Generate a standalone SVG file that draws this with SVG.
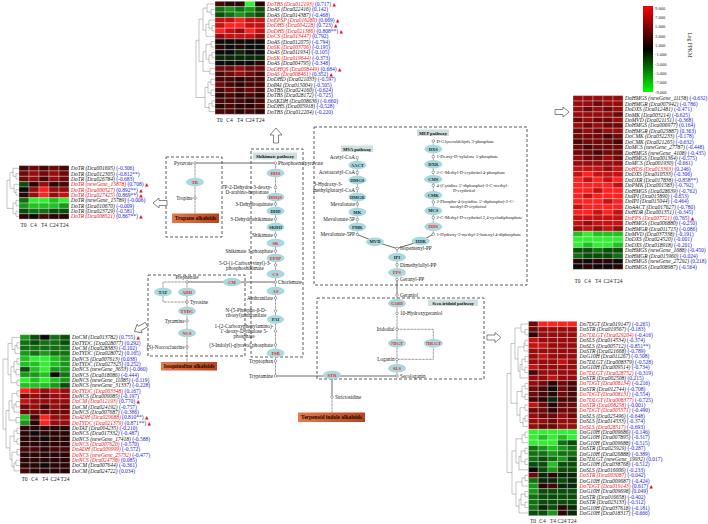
<svg xmlns="http://www.w3.org/2000/svg" width="708" height="524" viewBox="0 0 708 524">
<style>
text{font-family:"Liberation Serif","Times New Roman",serif}
.m{font-size:5.2px;fill:#222}
.ms{font-size:4.6px}
.mr{text-anchor:end}
.mm{text-anchor:middle}
.e{font-size:4.6px;font-weight:bold;text-anchor:middle;fill:#1b2a36}
.er{fill:#e8202a}
.en{fill:#a9d9dd}
.nd{fill:#fff;stroke:#555;stroke-width:0.5}
.hl{font-size:5.5px;font-style:italic;fill:#111}
.hr{fill:#e8101a}
.v{font-style:normal;fill:#2424cc}
.t{fill:#e8101a;font-family:"DejaVu Sans",sans-serif;font-size:4.5px;font-style:normal}
.cl{font-size:5.5px;fill:#222;text-anchor:middle}
.hm rect{width:1px;height:1px;stroke:#fff;stroke-width:0.3px;vector-effect:non-scaling-stroke}
.G{fill:#33ee33}.H{fill:#22c022}.I{fill:#1a961a}.J{fill:#117011}.L{fill:#0a4c0a}.M{fill:#082808}.K{fill:#0b0b0b}
.N{fill:#2a0505}.O{fill:#480707}.P{fill:#6e0909}.Q{fill:#960c0c}.S{fill:#c41212}.T{fill:#ff2020}
.dg{fill:none;stroke:#888;stroke-width:0.5}
.box{fill:none;stroke:#333;stroke-width:0.8;stroke-dasharray:3 2}
.sol{fill:none;stroke:#444;stroke-width:0.8}
.dot{fill:none;stroke:#777;stroke-width:0.9;stroke-dasharray:0.9 0.5}
.pl{fill:#cfe0e0}
.plt{font-size:4.6px;font-weight:bold;text-anchor:middle;fill:#111}
.alk{fill:url(#og)}
.alt{font-size:5.4px;font-weight:bold;text-anchor:middle;fill:#1a0800}
.arr{fill:#fff;stroke:#555;stroke-width:0.7}
</style>
<defs>
<linearGradient id="og" x1="0" y1="0" x2="1" y2="0"><stop offset="0" stop-color="#e27a4c"/><stop offset="1" stop-color="#b8441f"/></linearGradient>
<linearGradient id="lg" x1="0" y1="0" x2="0" y2="1"><stop offset="0" stop-color="#ff0000"/><stop offset="0.5" stop-color="#000000"/><stop offset="1" stop-color="#00ff00"/></linearGradient>
</defs>

<g id="legend">
<rect x="643" y="6" width="10" height="86" fill="url(#lg)"/>
<g font-size="4.5px" fill="#222">
<text x="655" y="9.5">9.000</text><text x="655" y="18.8">7.000</text><text x="655" y="28.2">5.000</text><text x="655" y="37.5">3.000</text><text x="655" y="46.8">1.000</text><text x="655" y="56.2">-1.000</text><text x="655" y="65.5">-3.000</text><text x="655" y="74.8">-5.000</text><text x="655" y="84.2">-7.000</text><text x="655" y="93.5">-9.000</text>
</g>
<text x="688" y="45" font-size="5.5px" fill="#222" text-anchor="middle" transform="rotate(90 688 45)">Log FPKM</text>
</g>

<g id="hm-top">
<path class="dg" d="M215 9.4H211V14.8H215M215 4H207V12.1H211M215 25.5H212V30.9H215M215 20.1H209V28.2H212M215 36.3H206V24.15H209M207 8.05H203V30.2H206M215 41.7H211V47H215M215 52.4H212V57.8H215M215 63.2H209V55.1H212M211 44.35H206V59.15H209M215 68.6H210V74H215M206 51.75H203V71.3H210M203 19.1H199V61.5H203M215 79.3H211V84.7H215M215 90.1H211V95.5H215M211 82H208V92.8H211M215 100.9H212V106.3H215M215 111.6H209V103.6H212M208 87.4H205V107.6H209M199 40.3H196V97.5H205"/>
<g class="hm" transform="translate(215 1.3) scale(10 5.38)">
<rect class="O" x="0" y="0"/><rect class="N" x="1" y="0"/><rect class="N" x="2" y="0"/><rect class="G" x="3" y="0"/><rect class="N" x="4" y="0"/>
<rect class="J" x="0" y="1"/><rect class="I" x="1" y="1"/><rect class="J" x="2" y="1"/><rect class="I" x="3" y="1"/><rect class="L" x="4" y="1"/>
<rect class="L" x="0" y="2"/><rect class="J" x="1" y="2"/><rect class="I" x="2" y="2"/><rect class="J" x="3" y="2"/><rect class="L" x="4" y="2"/>
<rect class="S" x="0" y="3"/><rect class="S" x="1" y="3"/><rect class="T" x="2" y="3"/><rect class="S" x="3" y="3"/><rect class="S" x="4" y="3"/>
<rect class="S" x="0" y="4"/><rect class="T" x="1" y="4"/><rect class="T" x="2" y="4"/><rect class="S" x="3" y="4"/><rect class="S" x="4" y="4"/>
<rect class="T" x="0" y="5"/><rect class="S" x="1" y="5"/><rect class="Q" x="2" y="5"/><rect class="T" x="3" y="5"/><rect class="S" x="4" y="5"/>
<rect class="Q" x="0" y="6"/><rect class="S" x="1" y="6"/><rect class="S" x="2" y="6"/><rect class="S" x="3" y="6"/><rect class="Q" x="4" y="6"/>
<rect class="K" x="0" y="7"/><rect class="K" x="1" y="7"/><rect class="K" x="2" y="7"/><rect class="K" x="3" y="7"/><rect class="K" x="4" y="7"/>
<rect class="N" x="0" y="8"/><rect class="K" x="1" y="8"/><rect class="N" x="2" y="8"/><rect class="K" x="3" y="8"/><rect class="K" x="4" y="8"/>
<rect class="K" x="0" y="9"/><rect class="K" x="1" y="9"/><rect class="M" x="2" y="9"/><rect class="K" x="3" y="9"/><rect class="K" x="4" y="9"/>
<rect class="M" x="0" y="10"/><rect class="M" x="1" y="10"/><rect class="M" x="2" y="10"/><rect class="M" x="3" y="10"/><rect class="M" x="4" y="10"/>
<rect class="K" x="0" y="11"/><rect class="K" x="1" y="11"/><rect class="K" x="2" y="11"/><rect class="K" x="3" y="11"/><rect class="N" x="4" y="11"/>
<rect class="P" x="0" y="12"/><rect class="P" x="1" y="12"/><rect class="Q" x="2" y="12"/><rect class="P" x="3" y="12"/><rect class="P" x="4" y="12"/>
<rect class="O" x="0" y="13"/><rect class="P" x="1" y="13"/><rect class="Q" x="2" y="13"/><rect class="P" x="3" y="13"/><rect class="O" x="4" y="13"/>
<rect class="O" x="0" y="14"/><rect class="O" x="1" y="14"/><rect class="N" x="2" y="14"/><rect class="O" x="3" y="14"/><rect class="O" x="4" y="14"/>
<rect class="P" x="0" y="15"/><rect class="O" x="1" y="15"/><rect class="N" x="2" y="15"/><rect class="O" x="3" y="15"/><rect class="O" x="4" y="15"/>
<rect class="O" x="0" y="16"/><rect class="P" x="1" y="16"/><rect class="O" x="2" y="16"/><rect class="P" x="3" y="16"/><rect class="O" x="4" y="16"/>
<rect class="N" x="0" y="17"/><rect class="O" x="1" y="17"/><rect class="N" x="2" y="17"/><rect class="O" x="3" y="17"/><rect class="N" x="4" y="17"/>
<rect class="O" x="0" y="18"/><rect class="O" x="1" y="18"/><rect class="O" x="2" y="18"/><rect class="N" x="3" y="18"/><rect class="O" x="4" y="18"/>
<rect class="N" x="0" y="19"/><rect class="O" x="1" y="19"/><rect class="N" x="2" y="19"/><rect class="N" x="3" y="19"/><rect class="O" x="4" y="19"/>
<rect class="O" x="0" y="20"/><rect class="O" x="1" y="20"/><rect class="N" x="2" y="20"/><rect class="O" x="3" y="20"/><rect class="N" x="4" y="20"/>
</g>
<g class="hl">
<text class="hr" x="267" y="5.9">DoTBS (Dca012193) <tspan class="v">(0.717)</tspan><tspan class="t"> ▲</tspan></text>
<text x="267" y="11.3">DoAS (Dca022416) <tspan class="v">(0.142)</tspan></text>
<text x="267" y="16.7">DoAS (Dca014387) <tspan class="v">(-0.468)</tspan></text>
<text class="hr" x="267" y="22">DoEPSP (Dca016280) <tspan class="v">(0.669)</tspan><tspan class="t"> ▲</tspan></text>
<text class="hr" x="267" y="27.4">DoDHS (Dca004228) <tspan class="v">(0.723)</tspan><tspan class="t"> ▲</tspan></text>
<text class="hr" x="267" y="32.8">DoDHS (Dca021386) <tspan class="v">(0.808**)</tspan><tspan class="t"> ▲</tspan></text>
<text class="hr" x="267" y="38.2">DoCS (Dca013447) <tspan class="v">(0.792)</tspan></text>
<text x="267" y="43.6">DoAS (Dca012075) <tspan class="v">(-0.794)</tspan></text>
<text class="hr" x="267" y="48.9">DoSK (Dca003706) <tspan class="v">(-0.195)</tspan></text>
<text x="267" y="54.3">DoAS (Dca011934) <tspan class="v">(-0.105)</tspan></text>
<text class="hr" x="267" y="59.7">DoSK (Dca019644) <tspan class="v">(-0.373)</tspan></text>
<text x="267" y="65.1">DoAS (Dca004795) <tspan class="v">(-0.348)</tspan></text>
<text class="hr" x="267" y="70.5">DoDHQS (Dca008449) <tspan class="v">(0.684)</tspan><tspan class="t"> ▲</tspan></text>
<text class="hr" x="267" y="75.9">DoAS (Dca008461) <tspan class="v">(0.352)</tspan><tspan class="t"> ▲</tspan></text>
<text x="267" y="81.2">DoDHD (Dca021033) <tspan class="v">(-0.597)</tspan></text>
<text x="267" y="86.6">DoPAI (Dca015004) <tspan class="v">(-0.505)</tspan></text>
<text x="267" y="92">DoTBS (Dca024160) <tspan class="v">(-0.624)</tspan></text>
<text x="267" y="97.4">DoTBS (Dca028172) <tspan class="v">(-0.725)</tspan></text>
<text x="267" y="102.8">DoSKDH (Dca008636) <tspan class="v">(-0.660)</tspan></text>
<text x="267" y="108.2">DoDHS (Dca005918) <tspan class="v">(-0.528)</tspan></text>
<text x="267" y="113.5">DoTBS (Dca012204) <tspan class="v">(-0.220)</tspan></text>
</g>
<text class="cl" y="121.5"><tspan x="219.5">T0</tspan><tspan x="229.5">C4</tspan><tspan x="240">T4</tspan><tspan x="250">C24</tspan><tspan x="260">T24</tspan></text>
</g>

<g id="hm-tropane">
<path class="dg" d="M19 173.6H16V179H19M19 168.3H13V176.3H16M19 189.7H16V195H19M19 184.3H14V192.35H16M13 172.3H10V188.3H14M19 200.4H16V205.7H19M19 211.1H16V216.4H19M16 203.05H13V213.75H16M10 180.3H7V208.4H13"/>
<g class="hm" transform="translate(19 165.6) scale(10 5.35)">
<rect class="O" x="0" y="0"/><rect class="P" x="1" y="0"/><rect class="O" x="2" y="0"/><rect class="P" x="3" y="0"/><rect class="O" x="4" y="0"/>
<rect class="P" x="0" y="1"/><rect class="Q" x="1" y="1"/><rect class="P" x="2" y="1"/><rect class="Q" x="3" y="1"/><rect class="P" x="4" y="1"/>
<rect class="P" x="0" y="2"/><rect class="Q" x="1" y="2"/><rect class="O" x="2" y="2"/><rect class="Q" x="3" y="2"/><rect class="P" x="4" y="2"/>
<rect class="L" x="0" y="3"/><rect class="N" x="1" y="3"/><rect class="Q" x="2" y="3"/><rect class="N" x="3" y="3"/><rect class="O" x="4" y="3"/>
<rect class="K" x="0" y="4"/><rect class="Q" x="1" y="4"/><rect class="T" x="2" y="4"/><rect class="Q" x="3" y="4"/><rect class="Q" x="4" y="4"/>
<rect class="N" x="0" y="5"/><rect class="Q" x="1" y="5"/><rect class="T" x="2" y="5"/><rect class="Q" x="3" y="5"/><rect class="S" x="4" y="5"/>
<rect class="J" x="0" y="6"/><rect class="G" x="1" y="6"/><rect class="G" x="2" y="6"/><rect class="H" x="3" y="6"/><rect class="G" x="4" y="6"/>
<rect class="I" x="0" y="7"/><rect class="H" x="1" y="7"/><rect class="H" x="2" y="7"/><rect class="H" x="3" y="7"/><rect class="I" x="4" y="7"/>
<rect class="L" x="0" y="8"/><rect class="J" x="1" y="8"/><rect class="J" x="2" y="8"/><rect class="L" x="3" y="8"/><rect class="L" x="4" y="8"/>
<rect class="N" x="0" y="9"/><rect class="K" x="1" y="9"/><rect class="O" x="2" y="9"/><rect class="N" x="3" y="9"/><rect class="N" x="4" y="9"/>
</g>
<g class="hl">
<text x="71" y="170.2">DoTR (Dca001695) <tspan class="v">(-0.306)</tspan></text>
<text x="71" y="175.5">DoTR (Dca012305) <tspan class="v">(-0.812**)</tspan></text>
<text x="71" y="180.9">DoTR (Dca026784) <tspan class="v">(-0.683)</tspan></text>
<text class="hr" x="71" y="186.2">DoTR (newGene_15878) <tspan class="v">(0.708)</tspan><tspan class="t"> ▲</tspan></text>
<text class="hr" x="71" y="191.6">DoTR (Dca000527) <tspan class="v">(0.892**)</tspan><tspan class="t"> ▲</tspan></text>
<text class="hr" x="71" y="196.9">DoTR (Dca027425) <tspan class="v">(0.869**)</tspan><tspan class="t"> ▲</tspan></text>
<text x="71" y="202.3">DoTR (newGene_15789) <tspan class="v">(-0.006)</tspan></text>
<text x="71" y="207.6">DoTR (Dca010670) <tspan class="v">(-0.009)</tspan></text>
<text x="71" y="213">DoTR (Dca023729) <tspan class="v">(-0.581)</tspan></text>
<text class="hr" x="71" y="218.4">DoTR (Dca008521) <tspan class="v">(0.867**)</tspan><tspan class="t"> ▲</tspan></text>
</g>
<text class="cl" y="227"><tspan x="23.5">T0</tspan><tspan x="33.5">C4</tspan><tspan x="44">T4</tspan><tspan x="54">C24</tspan><tspan x="64">T24</tspan></text>
</g>

<g id="hm-isoquinoline">
<path class="dg" d="M20 342.7H17V348.1H20M20 353.4H15V345.4H17M20 337.4H12V349.4H15M20 358.7H17V364.1H20M20 369.4H16V374.8H20M17 361.4H14V372.1H16M20 380.1H17V385.4H20M14 366.75H11V382.75H17M12 343.4H8V374.75H11M20 390.8H17V396.1H20M20 401.5H16V406.8H20M20 412.1H14V404.15H16M17 393.45H12V408.1H14M20 417.5H16V422.8H20M12 400.8H9V420.15H16M20 428.2H17V433.5H20M20 438.8H17V444.2H20M17 430.85H14V441.5H17M20 449.5H17V454.9H20M20 460.2H16V465.5H20M20 470.9H14V462.85H16M17 452.2H12V466.9H14M14 436.2H10V459.55H12M9 410.5H6V447.9H10M8 359.1H3V429.2H6"/>
<g class="hm" transform="translate(20 334.7) scale(10 5.34)">
<rect class="I" x="0" y="0"/><rect class="L" x="1" y="0"/><rect class="K" x="2" y="0"/><rect class="J" x="3" y="0"/><rect class="L" x="4" y="0"/>
<rect class="J" x="0" y="1"/><rect class="L" x="1" y="1"/><rect class="J" x="2" y="1"/><rect class="J" x="3" y="1"/><rect class="L" x="4" y="1"/>
<rect class="J" x="0" y="2"/><rect class="J" x="1" y="2"/><rect class="J" x="2" y="2"/><rect class="J" x="3" y="2"/><rect class="J" x="4" y="2"/>
<rect class="I" x="0" y="3"/><rect class="J" x="1" y="3"/><rect class="I" x="2" y="3"/><rect class="J" x="3" y="3"/><rect class="J" x="4" y="3"/>
<rect class="H" x="0" y="4"/><rect class="G" x="1" y="4"/><rect class="G" x="2" y="4"/><rect class="H" x="3" y="4"/><rect class="I" x="4" y="4"/>
<rect class="H" x="0" y="5"/><rect class="H" x="1" y="5"/><rect class="G" x="2" y="5"/><rect class="H" x="3" y="5"/><rect class="I" x="4" y="5"/>
<rect class="L" x="0" y="6"/><rect class="H" x="1" y="6"/><rect class="G" x="2" y="6"/><rect class="I" x="3" y="6"/><rect class="I" x="4" y="6"/>
<rect class="I" x="0" y="7"/><rect class="I" x="1" y="7"/><rect class="H" x="2" y="7"/><rect class="K" x="3" y="7"/><rect class="J" x="4" y="7"/>
<rect class="G" x="0" y="8"/><rect class="H" x="1" y="8"/><rect class="G" x="2" y="8"/><rect class="H" x="3" y="8"/><rect class="I" x="4" y="8"/>
<rect class="H" x="0" y="9"/><rect class="H" x="1" y="9"/><rect class="H" x="2" y="9"/><rect class="I" x="3" y="9"/><rect class="L" x="4" y="9"/>
<rect class="T" x="0" y="10"/><rect class="S" x="1" y="10"/><rect class="Q" x="2" y="10"/><rect class="S" x="3" y="10"/><rect class="Q" x="4" y="10"/>
<rect class="P" x="0" y="11"/><rect class="Q" x="1" y="11"/><rect class="P" x="2" y="11"/><rect class="Q" x="3" y="11"/><rect class="Q" x="4" y="11"/>
<rect class="S" x="0" y="12"/><rect class="Q" x="1" y="12"/><rect class="Q" x="2" y="12"/><rect class="Q" x="3" y="12"/><rect class="Q" x="4" y="12"/>
<rect class="P" x="0" y="13"/><rect class="Q" x="1" y="13"/><rect class="O" x="2" y="13"/><rect class="Q" x="3" y="13"/><rect class="P" x="4" y="13"/>
<rect class="P" x="0" y="14"/><rect class="P" x="1" y="14"/><rect class="P" x="2" y="14"/><rect class="P" x="3" y="14"/><rect class="P" x="4" y="14"/>
<rect class="H" x="0" y="15"/><rect class="O" x="1" y="15"/><rect class="T" x="2" y="15"/><rect class="Q" x="3" y="15"/><rect class="Q" x="4" y="15"/>
<rect class="I" x="0" y="16"/><rect class="N" x="1" y="16"/><rect class="T" x="2" y="16"/><rect class="Q" x="3" y="16"/><rect class="Q" x="4" y="16"/>
<rect class="N" x="0" y="17"/><rect class="N" x="1" y="17"/><rect class="N" x="2" y="17"/><rect class="N" x="3" y="17"/><rect class="N" x="4" y="17"/>
<rect class="N" x="0" y="18"/><rect class="K" x="1" y="18"/><rect class="N" x="2" y="18"/><rect class="N" x="3" y="18"/><rect class="N" x="4" y="18"/>
<rect class="N" x="0" y="19"/><rect class="N" x="1" y="19"/><rect class="K" x="2" y="19"/><rect class="N" x="3" y="19"/><rect class="N" x="4" y="19"/>
<rect class="N" x="0" y="20"/><rect class="N" x="1" y="20"/><rect class="N" x="2" y="20"/><rect class="N" x="3" y="20"/><rect class="N" x="4" y="20"/>
<rect class="O" x="0" y="21"/><rect class="O" x="1" y="21"/><rect class="N" x="2" y="21"/><rect class="O" x="3" y="21"/><rect class="O" x="4" y="21"/>
<rect class="N" x="0" y="22"/><rect class="N" x="1" y="22"/><rect class="N" x="2" y="22"/><rect class="N" x="3" y="22"/><rect class="N" x="4" y="22"/>
<rect class="N" x="0" y="23"/><rect class="N" x="1" y="23"/><rect class="N" x="2" y="23"/><rect class="N" x="3" y="23"/><rect class="N" x="4" y="23"/>
<rect class="N" x="0" y="24"/><rect class="N" x="1" y="24"/><rect class="K" x="2" y="24"/><rect class="N" x="3" y="24"/><rect class="N" x="4" y="24"/>
<rect class="O" x="0" y="25"/><rect class="N" x="1" y="25"/><rect class="N" x="2" y="25"/><rect class="N" x="3" y="25"/><rect class="N" x="4" y="25"/>
</g>
<g class="hl">
<text x="72" y="339.3">DoCM (Dca013782) <tspan class="v">(0.755)</tspan><tspan class="t"> ▲</tspan></text>
<text x="72" y="344.6">DoTYDC (Dca028077) <tspan class="v">(0.292)</tspan></text>
<text x="72" y="349.9">DoCM (Dca028383) <tspan class="v">(-0.102)</tspan></text>
<text x="72" y="355.3">DoTYDC (Dca028072) <tspan class="v">(0.165)</tspan></text>
<text x="72" y="360.6">DoNCS (Dca007613) <tspan class="v">(0.038)</tspan></text>
<text x="72" y="366">DoTYDC (Dca027325) <tspan class="v">(0.252)</tspan></text>
<text x="72" y="371.3">DoNCS (newGene_3653) <tspan class="v">(-0.060)</tspan></text>
<text x="72" y="376.7">DoNCS (Dca018086) <tspan class="v">(-0.444)</tspan></text>
<text x="72" y="382">DoNCS (newGene_11085) <tspan class="v">(-0.119)</tspan></text>
<text x="72" y="387.3">DoNCS (newGene_31337) <tspan class="v">(-0.228)</tspan></text>
<text class="hr" x="72" y="392.7">DoTYDC (Dca003348) <tspan class="v">(0.167)</tspan></text>
<text x="72" y="398">DoNCS (Dca009085) <tspan class="v">(-0.197)</tspan></text>
<text class="hr" x="72" y="403.4">DoCM (Dca012193) <tspan class="v">(0.770)</tspan><tspan class="t"> ▲</tspan></text>
<text x="72" y="408.7">DoCM (Dca024192) <tspan class="v">(-0.757)</tspan></text>
<text x="72" y="414">DoNCS (Dca007687) <tspan class="v">(-0.386)</tspan></text>
<text class="hr" x="72" y="419.4">DoADH (Dca029688) <tspan class="v">(0.810**)</tspan><tspan class="t"> ▲</tspan></text>
<text class="hr" x="72" y="424.7">DoTYDC (Dca021379) <tspan class="v">(0.871**)</tspan><tspan class="t"> ▲</tspan></text>
<text x="72" y="430.1">DoTAT (Dca004235) <tspan class="v">(-0.210)</tspan></text>
<text x="72" y="435.4">DoNCS (Dca017332) <tspan class="v">(-0.487)</tspan></text>
<text x="72" y="440.7">DoNCS (newGene_17418) <tspan class="v">(-0.588)</tspan></text>
<text class="hr" x="72" y="446.1">DoNCS (Dca007620) <tspan class="v">(-0.570)</tspan></text>
<text class="hr" x="72" y="451.4">DoADH (Dca009999) <tspan class="v">(-0.572)</tspan></text>
<text class="hr" x="72" y="456.8">DoNCS (newGene_25732) <tspan class="v">(-0.477)</tspan></text>
<text class="hr" x="72" y="462.1">DoNCS (Dca024738) <tspan class="v">(0.085)</tspan></text>
<text x="72" y="467.4">DoCM (Dca007644) <tspan class="v">(-0.361)</tspan></text>
<text x="72" y="472.8">DoCM (Dca024722) <tspan class="v">(0.034)</tspan></text>
</g>
<text class="cl" y="480.5"><tspan x="24.5">T0</tspan><tspan x="34.5">C4</tspan><tspan x="45">T4</tspan><tspan x="55">C24</tspan><tspan x="65">T24</tspan></text>
</g>

<g id="hm-terpenoid">
<g class="hm" transform="translate(573 95.6) scale(10 5.43)">
<rect class="Q" x="0" y="0"/><rect class="Q" x="1" y="0"/><rect class="Q" x="2" y="0"/><rect class="Q" x="3" y="0"/><rect class="Q" x="4" y="0"/>
<rect class="Q" x="0" y="1"/><rect class="Q" x="1" y="1"/><rect class="P" x="2" y="1"/><rect class="Q" x="3" y="1"/><rect class="Q" x="4" y="1"/>
<rect class="Q" x="0" y="2"/><rect class="P" x="1" y="2"/><rect class="Q" x="2" y="2"/><rect class="P" x="3" y="2"/><rect class="Q" x="4" y="2"/>
<rect class="Q" x="0" y="3"/><rect class="Q" x="1" y="3"/><rect class="Q" x="2" y="3"/><rect class="Q" x="3" y="3"/><rect class="P" x="4" y="3"/>
<rect class="P" x="0" y="4"/><rect class="Q" x="1" y="4"/><rect class="P" x="2" y="4"/><rect class="P" x="3" y="4"/><rect class="Q" x="4" y="4"/>
<rect class="Q" x="0" y="5"/><rect class="P" x="1" y="5"/><rect class="Q" x="2" y="5"/><rect class="P" x="3" y="5"/><rect class="P" x="4" y="5"/>
<rect class="P" x="0" y="6"/><rect class="Q" x="1" y="6"/><rect class="P" x="2" y="6"/><rect class="Q" x="3" y="6"/><rect class="Q" x="4" y="6"/>
<rect class="P" x="0" y="7"/><rect class="P" x="1" y="7"/><rect class="P" x="2" y="7"/><rect class="O" x="3" y="7"/><rect class="P" x="4" y="7"/>
<rect class="O" x="0" y="8"/><rect class="P" x="1" y="8"/><rect class="P" x="2" y="8"/><rect class="P" x="3" y="8"/><rect class="O" x="4" y="8"/>
<rect class="P" x="0" y="9"/><rect class="O" x="1" y="9"/><rect class="P" x="2" y="9"/><rect class="P" x="3" y="9"/><rect class="P" x="4" y="9"/>
<rect class="P" x="0" y="10"/><rect class="P" x="1" y="10"/><rect class="O" x="2" y="10"/><rect class="P" x="3" y="10"/><rect class="P" x="4" y="10"/>
<rect class="Q" x="0" y="11"/><rect class="P" x="1" y="11"/><rect class="P" x="2" y="11"/><rect class="Q" x="3" y="11"/><rect class="P" x="4" y="11"/>
<rect class="Q" x="0" y="12"/><rect class="Q" x="1" y="12"/><rect class="Q" x="2" y="12"/><rect class="Q" x="3" y="12"/><rect class="Q" x="4" y="12"/>
<rect class="S" x="0" y="13"/><rect class="S" x="1" y="13"/><rect class="S" x="2" y="13"/><rect class="Q" x="3" y="13"/><rect class="S" x="4" y="13"/>
<rect class="S" x="0" y="14"/><rect class="T" x="1" y="14"/><rect class="S" x="2" y="14"/><rect class="S" x="3" y="14"/><rect class="S" x="4" y="14"/>
<rect class="T" x="0" y="15"/><rect class="S" x="1" y="15"/><rect class="T" x="2" y="15"/><rect class="S" x="3" y="15"/><rect class="T" x="4" y="15"/>
<rect class="T" x="0" y="16"/><rect class="T" x="1" y="16"/><rect class="T" x="2" y="16"/><rect class="T" x="3" y="16"/><rect class="S" x="4" y="16"/>
<rect class="T" x="0" y="17"/><rect class="T" x="1" y="17"/><rect class="S" x="2" y="17"/><rect class="T" x="3" y="17"/><rect class="T" x="4" y="17"/>
<rect class="T" x="0" y="18"/><rect class="S" x="1" y="18"/><rect class="T" x="2" y="18"/><rect class="T" x="3" y="18"/><rect class="T" x="4" y="18"/>
<rect class="T" x="0" y="19"/><rect class="T" x="1" y="19"/><rect class="T" x="2" y="19"/><rect class="S" x="3" y="19"/><rect class="T" x="4" y="19"/>
<rect class="S" x="0" y="20"/><rect class="T" x="1" y="20"/><rect class="T" x="2" y="20"/><rect class="T" x="3" y="20"/><rect class="T" x="4" y="20"/>
<rect class="T" x="0" y="21"/><rect class="T" x="1" y="21"/><rect class="S" x="2" y="21"/><rect class="T" x="3" y="21"/><rect class="S" x="4" y="21"/>
<rect class="S" x="0" y="22"/><rect class="S" x="1" y="22"/><rect class="S" x="2" y="22"/><rect class="S" x="3" y="22"/><rect class="S" x="4" y="22"/>
<rect class="S" x="0" y="23"/><rect class="Q" x="1" y="23"/><rect class="S" x="2" y="23"/><rect class="S" x="3" y="23"/><rect class="S" x="4" y="23"/>
<rect class="Q" x="0" y="24"/><rect class="S" x="1" y="24"/><rect class="Q" x="2" y="24"/><rect class="S" x="3" y="24"/><rect class="Q" x="4" y="24"/>
<rect class="H" x="0" y="25"/><rect class="G" x="1" y="25"/><rect class="H" x="2" y="25"/><rect class="H" x="3" y="25"/><rect class="H" x="4" y="25"/>
<rect class="G" x="0" y="26"/><rect class="G" x="1" y="26"/><rect class="G" x="2" y="26"/><rect class="G" x="3" y="26"/><rect class="G" x="4" y="26"/>
<rect class="G" x="0" y="27"/><rect class="H" x="1" y="27"/><rect class="G" x="2" y="27"/><rect class="G" x="3" y="27"/><rect class="H" x="4" y="27"/>
<rect class="L" x="0" y="28"/><rect class="L" x="1" y="28"/><rect class="J" x="2" y="28"/><rect class="L" x="3" y="28"/><rect class="L" x="4" y="28"/>
<rect class="J" x="0" y="29"/><rect class="L" x="1" y="29"/><rect class="L" x="2" y="29"/><rect class="L" x="3" y="29"/><rect class="J" x="4" y="29"/>
<rect class="N" x="0" y="30"/><rect class="K" x="1" y="30"/><rect class="N" x="2" y="30"/><rect class="N" x="3" y="30"/><rect class="K" x="4" y="30"/>
<rect class="K" x="0" y="31"/><rect class="N" x="1" y="31"/><rect class="K" x="2" y="31"/><rect class="K" x="3" y="31"/><rect class="N" x="4" y="31"/>
</g>
<g class="hl">
<text x="625" y="100.2">DoHMGS (newGene_11158) <tspan class="v">(-0.632)</tspan></text>
<text x="625" y="105.6">DoHMGR (Dca007942) <tspan class="v">(-0.786)</tspan></text>
<text x="625" y="111.1">DoDXS (Dca012481) <tspan class="v">(-0.471)</tspan></text>
<text x="625" y="116.5">DoMK (Dca003214) <tspan class="v">(-0.625)</tspan></text>
<text x="625" y="121.9">DoMVD (Dca021151) <tspan class="v">(-0.368)</tspan></text>
<text x="625" y="127.4">DoHMGS (Dca006977) <tspan class="v">(0.164)</tspan></text>
<text x="625" y="132.8">DoHMGR (Dca025887) <tspan class="v">(0.363)</tspan></text>
<text x="625" y="138.2">DoCMK (Dca032233) <tspan class="v">(-0.178)</tspan></text>
<text x="625" y="143.6">DoCMK (Dca021265) <tspan class="v">(-0.632)</tspan></text>
<text x="625" y="149.1">DoMCS (newGene_27787) <tspan class="v">(-0.448)</tspan></text>
<text x="625" y="154.5">DoHMGS (newGene_4108) <tspan class="v">(-0.435)</tspan></text>
<text x="625" y="159.9">DoHMGS (Dca001364) <tspan class="v">(-0.575)</tspan></text>
<text x="625" y="165.4">DoMCS (Dca001930) <tspan class="v">(-0.661)</tspan></text>
<text class="hr" x="625" y="170.8">DoHDS (Dca013363) <tspan class="v">(0.246)</tspan></text>
<text x="625" y="176.2">DoDXS (Dca010533) <tspan class="v">(-0.306)</tspan></text>
<text x="625" y="181.6">DoDXR (Dca017838) <tspan class="v">(-0.858**)</tspan></text>
<text x="625" y="187.1">DoPMK (Dca001583) <tspan class="v">(-0.792)</tspan></text>
<text x="625" y="192.5">DoHMGS (Dca028639) <tspan class="v">(-0.762)</tspan></text>
<text x="625" y="197.9">DoIPI (Dca015890) <tspan class="v">(-0.653)</tspan></text>
<text x="625" y="203.4">DoIPI (Dca015044) <tspan class="v">(-0.464)</tspan></text>
<text x="625" y="208.8">DoAACT (Dca017627) <tspan class="v">(-0.780)</tspan></text>
<text x="625" y="214.2">DoHDR (Dca001351) <tspan class="v">(-0.345)</tspan></text>
<text class="hr" x="625" y="219.6">DoFPS (Dca007721) <tspan class="v">(0.765)</tspan><tspan class="t"> ▲</tspan></text>
<text x="625" y="225.1">DoHMGS (Dca006880) <tspan class="v">(-0.250)</tspan></text>
<text x="625" y="230.5">DoHMGR (Dca011715) <tspan class="v">(-0.086)</tspan></text>
<text x="625" y="235.9">DoMVD (Dca037338) <tspan class="v">(-0.191)</tspan></text>
<text x="625" y="241.4">DoDXS (Dca024520) <tspan class="v">(-0.001)</tspan></text>
<text x="625" y="246.8">DoDXS (Dca018918) <tspan class="v">(-0.201)</tspan></text>
<text x="625" y="252.2">DoHMGS (newGene_1688) <tspan class="v">(-0.450)</tspan></text>
<text x="625" y="257.6">DoHMGR (Dca015960) <tspan class="v">(-0.024)</tspan></text>
<text x="625" y="263.1">DoHMGS (newGene_27292) <tspan class="v">(0.218)</tspan></text>
<text x="625" y="268.5">DoHMGS (Dca008987) <tspan class="v">(-0.564)</tspan></text>
</g>
<text class="cl" y="283"><tspan x="577.5">T0</tspan><tspan x="587.5">C4</tspan><tspan x="598">T4</tspan><tspan x="608">C24</tspan><tspan x="618">T24</tspan></text>
</g>

<g id="hm-secoiridoid">
<path class="dg" d="M528 329.4H525V334.8H528M528 324H521V332.1H525M528 340.2H525V345.6H528M528 351H524V342.9H525M528 356.4H525V361.8H528M528 367.2H525V372.6H528M525 359.1H522V369.9H525M528 378H520V364.5H522M524 346.9H518V371.2H520M521 328H515V359H518M528 383.4H525V388.8H528M528 394.2H525V399.6H528M525 386.1H522V396.9H525M528 405H525V410.4H528M528 415.8H525V421.2H528M528 426.6H523V418.5H525M525 407.7H520V422.5H523M522 391.5H517V415.1H520M515 343.5H511V403.3H517M528 432H525V437.4H528M528 442.8H522V434.7H525M528 448.2H525V453.6H528M528 459H525V464.4H528M525 450.9H521V461.7H525M528 469.8H519V456.3H521M522 438.75H516V463H519M528 475.2H525V480.6H528M528 486H522V477.9H525M528 491.4H525V496.8H528M528 502.2H525V507.6H528M525 494.1H521V504.9H525M528 513H519V499.5H521M522 481.95H516V506.25H519M516 450.9H512V494.1H516M511 373.4H507V472.5H512"/>
<g class="hm" transform="translate(528.5 321.3) scale(9.7 5.4)">
<rect class="P" x="0" y="0"/><rect class="T" x="1" y="0"/><rect class="T" x="2" y="0"/><rect class="T" x="3" y="0"/><rect class="T" x="4" y="0"/>
<rect class="P" x="0" y="1"/><rect class="Q" x="1" y="1"/><rect class="Q" x="2" y="1"/><rect class="Q" x="3" y="1"/><rect class="Q" x="4" y="1"/>
<rect class="N" x="0" y="2"/><rect class="Q" x="1" y="2"/><rect class="Q" x="2" y="2"/><rect class="Q" x="3" y="2"/><rect class="Q" x="4" y="2"/>
<rect class="S" x="0" y="3"/><rect class="Q" x="1" y="3"/><rect class="Q" x="2" y="3"/><rect class="Q" x="3" y="3"/><rect class="Q" x="4" y="3"/>
<rect class="S" x="0" y="4"/><rect class="S" x="1" y="4"/><rect class="Q" x="2" y="4"/><rect class="Q" x="3" y="4"/><rect class="Q" x="4" y="4"/>
<rect class="Q" x="0" y="5"/><rect class="Q" x="1" y="5"/><rect class="Q" x="2" y="5"/><rect class="Q" x="3" y="5"/><rect class="Q" x="4" y="5"/>
<rect class="Q" x="0" y="6"/><rect class="S" x="1" y="6"/><rect class="Q" x="2" y="6"/><rect class="Q" x="3" y="6"/><rect class="Q" x="4" y="6"/>
<rect class="Q" x="0" y="7"/><rect class="Q" x="1" y="7"/><rect class="Q" x="2" y="7"/><rect class="S" x="3" y="7"/><rect class="Q" x="4" y="7"/>
<rect class="S" x="0" y="8"/><rect class="Q" x="1" y="8"/><rect class="Q" x="2" y="8"/><rect class="Q" x="3" y="8"/><rect class="Q" x="4" y="8"/>
<rect class="O" x="0" y="9"/><rect class="Q" x="1" y="9"/><rect class="Q" x="2" y="9"/><rect class="Q" x="3" y="9"/><rect class="Q" x="4" y="9"/>
<rect class="Q" x="0" y="10"/><rect class="Q" x="1" y="10"/><rect class="S" x="2" y="10"/><rect class="Q" x="3" y="10"/><rect class="Q" x="4" y="10"/>
<rect class="Q" x="0" y="11"/><rect class="P" x="1" y="11"/><rect class="N" x="2" y="11"/><rect class="P" x="3" y="11"/><rect class="O" x="4" y="11"/>
<rect class="P" x="0" y="12"/><rect class="O" x="1" y="12"/><rect class="K" x="2" y="12"/><rect class="P" x="3" y="12"/><rect class="O" x="4" y="12"/>
<rect class="P" x="0" y="13"/><rect class="O" x="1" y="13"/><rect class="N" x="2" y="13"/><rect class="P" x="3" y="13"/><rect class="O" x="4" y="13"/>
<rect class="O" x="0" y="14"/><rect class="N" x="1" y="14"/><rect class="M" x="2" y="14"/><rect class="O" x="3" y="14"/><rect class="O" x="4" y="14"/>
<rect class="S" x="0" y="15"/><rect class="P" x="1" y="15"/><rect class="N" x="2" y="15"/><rect class="P" x="3" y="15"/><rect class="P" x="4" y="15"/>
<rect class="P" x="0" y="16"/><rect class="P" x="1" y="16"/><rect class="N" x="2" y="16"/><rect class="P" x="3" y="16"/><rect class="P" x="4" y="16"/>
<rect class="Q" x="0" y="17"/><rect class="P" x="1" y="17"/><rect class="P" x="2" y="17"/><rect class="Q" x="3" y="17"/><rect class="P" x="4" y="17"/>
<rect class="Q" x="0" y="18"/><rect class="Q" x="1" y="18"/><rect class="P" x="2" y="18"/><rect class="Q" x="3" y="18"/><rect class="Q" x="4" y="18"/>
<rect class="Q" x="0" y="19"/><rect class="P" x="1" y="19"/><rect class="P" x="2" y="19"/><rect class="Q" x="3" y="19"/><rect class="Q" x="4" y="19"/>
<rect class="G" x="0" y="20"/><rect class="G" x="1" y="20"/><rect class="G" x="2" y="20"/><rect class="G" x="3" y="20"/><rect class="G" x="4" y="20"/>
<rect class="G" x="0" y="21"/><rect class="H" x="1" y="21"/><rect class="G" x="2" y="21"/><rect class="H" x="3" y="21"/><rect class="G" x="4" y="21"/>
<rect class="G" x="0" y="22"/><rect class="G" x="1" y="22"/><rect class="G" x="2" y="22"/><rect class="J" x="3" y="22"/><rect class="L" x="4" y="22"/>
<rect class="J" x="0" y="23"/><rect class="I" x="1" y="23"/><rect class="H" x="2" y="23"/><rect class="I" x="3" y="23"/><rect class="J" x="4" y="23"/>
<rect class="J" x="0" y="24"/><rect class="J" x="1" y="24"/><rect class="I" x="2" y="24"/><rect class="J" x="3" y="24"/><rect class="J" x="4" y="24"/>
<rect class="J" x="0" y="25"/><rect class="L" x="1" y="25"/><rect class="J" x="2" y="25"/><rect class="I" x="3" y="25"/><rect class="L" x="4" y="25"/>
<rect class="L" x="0" y="26"/><rect class="L" x="1" y="26"/><rect class="H" x="2" y="26"/><rect class="L" x="3" y="26"/><rect class="L" x="4" y="26"/>
<rect class="K" x="0" y="27"/><rect class="L" x="1" y="27"/><rect class="I" x="2" y="27"/><rect class="L" x="3" y="27"/><rect class="L" x="4" y="27"/>
<rect class="P" x="0" y="28"/><rect class="M" x="1" y="28"/><rect class="N" x="2" y="28"/><rect class="M" x="3" y="28"/><rect class="M" x="4" y="28"/>
<rect class="J" x="0" y="29"/><rect class="M" x="1" y="29"/><rect class="M" x="2" y="29"/><rect class="L" x="3" y="29"/><rect class="M" x="4" y="29"/>
<rect class="I" x="0" y="30"/><rect class="N" x="1" y="30"/><rect class="O" x="2" y="30"/><rect class="M" x="3" y="30"/><rect class="M" x="4" y="30"/>
<rect class="I" x="0" y="31"/><rect class="L" x="1" y="31"/><rect class="L" x="2" y="31"/><rect class="L" x="3" y="31"/><rect class="L" x="4" y="31"/>
<rect class="J" x="0" y="32"/><rect class="L" x="1" y="32"/><rect class="L" x="2" y="32"/><rect class="L" x="3" y="32"/><rect class="L" x="4" y="32"/>
<rect class="J" x="0" y="33"/><rect class="L" x="1" y="33"/><rect class="L" x="2" y="33"/><rect class="L" x="3" y="33"/><rect class="L" x="4" y="33"/>
<rect class="J" x="0" y="34"/><rect class="M" x="1" y="34"/><rect class="L" x="2" y="34"/><rect class="N" x="3" y="34"/><rect class="M" x="4" y="34"/>
<rect class="L" x="0" y="35"/><rect class="L" x="1" y="35"/><rect class="I" x="2" y="35"/><rect class="N" x="3" y="35"/><rect class="M" x="4" y="35"/>
</g>
<g class="hl">
<text x="579.5" y="325.9">Do7DGT (Dca019147) <tspan class="v">(-0.265)</tspan></text>
<text x="579.5" y="331.3">DoSTR (Dca019567) <tspan class="v">(-0.183)</tspan></text>
<text class="hr" x="579.5" y="336.7">Do7DLGT (Dca029204) <tspan class="v">(-0.416)</tspan></text>
<text x="579.5" y="342.1">DoSLS (Dca014534) <tspan class="v">(-0.374)</tspan></text>
<text x="579.5" y="347.5">DoSLS (Dca005712) <tspan class="v">(-0.851**)</tspan></text>
<text x="579.5" y="352.9">DoSTR (Dca021668) <tspan class="v">(-0.789)</tspan></text>
<text x="579.5" y="358.3">DoG10H (Dca011267) <tspan class="v">(-0.508)</tspan></text>
<text x="579.5" y="363.7">Do7DLGT (Dca008379) <tspan class="v">(-0.528)</tspan></text>
<text x="579.5" y="369.1">DoG10H (Dca009514) <tspan class="v">(-0.734)</tspan></text>
<text class="hr" x="579.5" y="374.5">Do7DLGT (Dca028752) <tspan class="v">(-0.319)</tspan></text>
<text x="579.5" y="379.9">DoSTR (Dca002508) <tspan class="v">(0.215)</tspan></text>
<text class="hr" x="579.5" y="385.3">Do7DGT (Dca008134) <tspan class="v">(-0.216)</tspan></text>
<text x="579.5" y="390.7">DoSTR (Dca012744) <tspan class="v">(-0.708)</tspan></text>
<text class="hr" x="579.5" y="396.1">Do7DGT (Dca008131) <tspan class="v">(-0.554)</tspan></text>
<text class="hr" x="579.5" y="401.5">Do7DLGT (Dca008377) <tspan class="v">(-0.725)</tspan></text>
<text class="hr" x="579.5" y="406.9">DoSTR (Dca008258) <tspan class="v">(-0.001)</tspan></text>
<text class="hr" x="579.5" y="412.3">Do7DGT (Dca005571) <tspan class="v">(-0.490)</tspan></text>
<text x="579.5" y="417.7">DoSLS (Dca025496) <tspan class="v">(-0.648)</tspan></text>
<text x="579.5" y="423.1">DoSLS (Dca014533) <tspan class="v">(-0.374)</tspan></text>
<text class="hr" x="579.5" y="428.5">DoSLS (Dca028517) <tspan class="v">(-0.693)</tspan></text>
<text x="579.5" y="433.9">DoG10H (Dca009686) <tspan class="v">(-0.146)</tspan></text>
<text x="579.5" y="439.3">DoG10H (Dca007895) <tspan class="v">(-0.317)</tspan></text>
<text x="579.5" y="444.7">DoG10H (Dca009688) <tspan class="v">(-0.515)</tspan></text>
<text x="579.5" y="450.1">DoSTR (Dca025929) <tspan class="v">(-0.287)</tspan></text>
<text x="579.5" y="455.5">DoG10H (Dca026888) <tspan class="v">(-0.389)</tspan></text>
<text x="579.5" y="460.9">Do7DLGT (newGene_19932) <tspan class="v">(0.017)</tspan></text>
<text x="579.5" y="466.3">DoG10H (Dca038768) <tspan class="v">(-0.512)</tspan></text>
<text x="579.5" y="471.7">DoSLS (Dca016006) <tspan class="v">(-0.233)</tspan></text>
<text class="hr" x="579.5" y="477.1">DoSTR (Dca003087) <tspan class="v">(-0.042)</tspan></text>
<text x="579.5" y="482.5">DoG10H (Dca009687) <tspan class="v">(-0.424)</tspan></text>
<text class="hr" x="579.5" y="487.9">Do7DGT (Dca019143) <tspan class="v">(0.617)</tspan><tspan class="t"> ▲</tspan></text>
<text x="579.5" y="493.3">DoG10H (Dca009698) <tspan class="v">(0.049)</tspan></text>
<text x="579.5" y="498.7">DoSTR (Dca016658) <tspan class="v">(-0.402)</tspan></text>
<text x="579.5" y="504.1">DoSTR (Dca023133) <tspan class="v">(-0.312)</tspan></text>
<text x="579.5" y="509.5">DoG10H (Dca037618) <tspan class="v">(-0.181)</tspan></text>
<text x="579.5" y="514.9">DoG10H (Dca018317) <tspan class="v">(-0.666)</tspan></text>
</g>
<text class="cl" y="522.5"><tspan x="533">T0</tspan><tspan x="542.5">C4</tspan><tspan x="553">T4</tspan><tspan x="562">C24</tspan><tspan x="572">T24</tspan></text>
</g>

<g id="boxes">
<rect class="box" x="166" y="157" width="56" height="80"/>
<rect class="box" x="251" y="149" width="52" height="208"/>
<rect class="box" x="148" y="275" width="97" height="81"/>
<rect class="box" x="314" y="127" width="213" height="158"/>
<rect class="box" x="317" y="298" width="167" height="81"/>
<rect class="pl" x="253" y="152.5" width="44" height="7"/><text class="plt" x="275" y="157.8">Shikimate pathway</text>
<rect class="pl" x="341" y="145.5" width="32" height="6.5"/><text class="plt" x="357" y="150.5">MVA pathway</text>
<rect class="pl" x="417" y="129.5" width="32" height="6.5"/><text class="plt" x="433" y="134.5">MEP pathway</text>
<rect class="pl" x="428" y="299.5" width="50" height="6.5"/><text class="plt" x="453" y="304.5">Seco-iridoid pathway</text>
</g>

<g id="connectors">
<path class="sol" d="M195 163H275.5"/>
<path class="dot" d="M195 163V213.5"/>
<path class="dot" d="M275.5 163V376"/>
<path class="sol" d="M187 282H275.5"/>
<path class="dot" d="M187 282V362M187 282H163V302H187"/>
<path class="sol" d="M275.5 376H397M332 376V397"/>
<path class="dot" d="M332 397V412.5"/>
<path class="dot" d="M357.3 157.5V234.5M433.3 141V234.3M397 248.5V279.5"/>
<path class="sol" d="M357.3 234.5L375 241.7L397 248.5L420.7 241L433.3 234.3M397 279.5V295"/>
<path class="dot" d="M397 295V376M397 329.3H433.3V359.3H397"/>
<polygon class="arr" points="276,128 282,135 278.5,135 278.5,143 273.5,143 273.5,135 270,135"/>
<polygon class="arr" points="153,203 159,198 159,200.5 167,200.5 167,205.5 159,205.5 159,208"/>
<polygon class="arr" transform="rotate(-30 140.5 328)" points="133.5,328 139.5,323 139.5,325.5 147.5,325.5 147.5,330.5 139.5,330.5 139.5,333"/>
<polygon class="arr" points="501,337.5 495,332.5 495,335 487,335 487,340 495,340 495,342.5"/>
<polygon class="arr" points="569,112 563,107 563,109.5 555,109.5 555,114.5 563,114.5 563,117"/>
</g>

<g id="n-pyruvate"><circle class="nd" cx="195" cy="163" r="1.3"/><text class="m mr" x="192.5" y="164.8">Pyruvate</text></g>
<g id="n-TR"><ellipse class="en" cx="195" cy="182" rx="9" ry="4.3"/><text class="e er" x="195" y="183.6">TR</text></g>
<g id="n-tropine"><circle class="nd" cx="195" cy="198" r="1.3"/><text class="m mr" x="192.5" y="199.8">Tropine</text></g>
<g id="n-tropane-alk"><rect class="alk" x="172" y="213.5" width="47" height="9.5"/><text class="alt" x="195.5" y="220.2">Tropane alkaloids</text></g>

<g id="n-pep"><circle class="nd" cx="275.5" cy="163" r="1.3"/><text class="m" x="278" y="164.8">Phosphoenolpyruvate</text></g>
<g id="n-DHS"><ellipse class="en" cx="275.5" cy="173" rx="9" ry="4.3"/><text class="e er" x="275.5" y="174.6">DHS</text></g>
<g id="n-dahp"><circle class="nd" cx="275.5" cy="187.5" r="1.3"/><text class="m mm" x="247" y="188.5">7P-2-Dehydro-3-deoxy-</text><text class="m mm" x="247" y="194">D-arabino-heptonate</text></g>
<g id="n-DHQS"><ellipse class="en" cx="275.5" cy="197" rx="9" ry="4.3"/><text class="e er" x="275.5" y="198.6">DHQS</text></g>
<g id="n-dhq"><circle class="nd" cx="275.5" cy="204" r="1.3"/><text class="m mr" x="273" y="205.8">3-Dehydroquinate</text></g>
<g id="n-DHD"><ellipse class="en" cx="275.5" cy="211" rx="9" ry="4.3"/><text class="e" x="275.5" y="212.6">DHD</text></g>
<g id="n-dhs"><circle class="nd" cx="275.5" cy="219" r="1.3"/><text class="m mr" x="273" y="220.8">3-Dehydroshikimate</text></g>
<g id="n-SKDH"><ellipse class="en" cx="275.5" cy="227" rx="9" ry="4.3"/><text class="e" x="275.5" y="228.6">SKDH</text></g>
<g id="n-shik"><circle class="nd" cx="275.5" cy="235" r="1.3"/><text class="m mr" x="273" y="236.8">Shikimate</text></g>
<g id="n-SK"><ellipse class="en" cx="275.5" cy="243" rx="9" ry="4.3"/><text class="e er" x="275.5" y="244.6">SK</text></g>
<g id="n-s3p"><circle class="nd" cx="275.5" cy="251" r="1.3"/><text class="m mr" x="273" y="252.8">Shikimate 3-phosphate</text></g>
<g id="n-EPSP"><ellipse class="en" cx="275.5" cy="258" rx="9" ry="4.3"/><text class="e er" x="275.5" y="259.6">EPSP</text></g>
<g id="n-epsp"><circle class="nd" cx="275.5" cy="265" r="1.3"/><text class="m mm" x="245" y="264.8">5-O-(1-Carboxyvinyl)-3-</text><text class="m mm" x="245" y="270.2">phosphoshikimate</text></g>
<g id="n-CS"><ellipse class="en" cx="275.5" cy="274" rx="9" ry="4.3"/><text class="e er" x="275.5" y="275.6">CS</text></g>
<g id="n-chor"><circle class="nd" cx="275.5" cy="282" r="1.3"/><text class="m" x="278" y="283.8">Chorismate</text></g>
<g id="n-AS"><ellipse class="en" cx="275.5" cy="291" rx="9" ry="4.3"/><text class="e er" x="275.5" y="292.6">AS</text></g>
<g id="n-anth"><circle class="nd" cx="275.5" cy="298" r="1.3"/><text class="m mr" x="273" y="299.8">Anthranilate</text></g>
<g id="n-pra"><circle class="nd" cx="275.5" cy="311" r="1.3"/><text class="m mm" x="246" y="311.5">N-(5-Phospho-β-D-</text><text class="m mm" x="246" y="317">ribosyl)anthranilate</text></g>
<g id="n-PAI"><ellipse class="en" cx="275.5" cy="319.5" rx="8.5" ry="4.2"/><text class="e" x="275.5" y="321.1">PAI</text></g>
<g id="n-cdrp"><circle class="nd" cx="275.5" cy="331" r="1.3"/><text class="m mm" x="244" y="327.8">1-(2-Carboxyphenylamino)-</text><text class="m mm" x="244" y="332.8">1'-deoxy-D-ribulose 5-</text><text class="m mm" x="244" y="337.8">phosphate</text></g>
<g id="n-igp"><circle class="nd" cx="275.5" cy="345" r="1.3"/><text class="m mr" x="273" y="346.8">(3-Indolyl)-glycerol phosphate</text></g>
<g id="n-TSB"><ellipse class="en" cx="275.5" cy="353" rx="9" ry="4.3"/><text class="e er" x="275.5" y="354.6">TSB</text></g>
<g id="n-trp"><circle class="nd" cx="275.5" cy="361" r="1.3"/><text class="m mr" x="273" y="362.8">Tryptophan</text></g>
<g id="n-tryptamine"><circle class="nd" cx="275.5" cy="376" r="1.3"/><text class="m mr" x="273" y="377.8">Tryptamine</text></g>

<g id="n-preph"><circle class="nd" cx="187" cy="282" r="1.3"/><text class="m mm" x="187" y="278.8">Prephenate</text></g>
<g id="n-CM"><ellipse class="en" cx="232" cy="282" rx="9" ry="4.3"/><text class="e er" x="232" y="283.6">CM</text></g>
<g id="n-TAT"><ellipse class="en" cx="163" cy="292" rx="9" ry="4.3"/><text class="e" x="163" y="293.6">TAT</text></g>
<g id="n-ADH"><ellipse class="en" cx="187" cy="292" rx="9" ry="4.3"/><text class="e er" x="187" y="293.6">ADH</text></g>
<g id="n-tyr"><circle class="nd" cx="187" cy="302" r="1.3"/><text class="m" x="190" y="303.8">Tyrosine</text></g>
<g id="n-TYDC"><ellipse class="en" cx="187" cy="311" rx="9" ry="4.3"/><text class="e er" x="187" y="312.6">TYDC</text></g>
<g id="n-tyramine"><circle class="nd" cx="187" cy="321" r="1.3"/><text class="m mr" x="184.5" y="322.8">Tyramine</text></g>
<g id="n-NCS"><ellipse class="en" cx="187" cy="333" rx="9" ry="4.3"/><text class="e er" x="187" y="334.6">NCS</text></g>
<g id="n-norc"><circle class="nd" cx="187" cy="347" r="1.3"/><text class="m mr" x="184.5" y="348.8">(S)-Norcoclaurine</text></g>
<g id="n-iso-alk"><rect class="alk" x="161" y="362" width="56" height="8.5"/><text class="alt" x="189" y="368.2">Isoquinoline alkaloids</text></g>

<g id="n-acetyl"><circle class="nd" cx="357.3" cy="157.5" r="1.3"/><text class="m mr" x="355" y="159.3">Acetyl-CoA</text></g>
<g id="n-AACT"><ellipse class="en" cx="357.3" cy="165" rx="9" ry="4.3"/><text class="e" x="357.3" y="166.6">AACT</text></g>
<g id="n-acac"><circle class="nd" cx="357.3" cy="172.5" r="1.3"/><text class="m mr" x="355" y="174.3">Acetoacetyl-CoA</text></g>
<g id="n-HMGS"><ellipse class="en" cx="357.3" cy="180" rx="9" ry="4.3"/><text class="e" x="357.3" y="181.6">HMGS</text></g>
<g id="n-hmg"><circle class="nd" cx="357.3" cy="188.5" r="1.3"/><text class="m mm" x="328" y="186">3-Hydroxy-3-</text><text class="m mr" x="355" y="191.5">methylglutaryl-CoA</text></g>
<g id="n-HMGR"><ellipse class="en" cx="357.3" cy="197" rx="9" ry="4.3"/><text class="e" x="357.3" y="198.6">HMGR</text></g>
<g id="n-mev"><circle class="nd" cx="357.3" cy="204" r="1.3"/><text class="m mr" x="355" y="205.8">Mevalonate</text></g>
<g id="n-MK"><ellipse class="en" cx="357.3" cy="212" rx="9" ry="4.3"/><text class="e" x="357.3" y="213.6">MK</text></g>
<g id="n-mev5p"><circle class="nd" cx="357.3" cy="219.5" r="1.3"/><text class="m mr" x="355" y="221.3">Mevalonate-5P</text></g>
<g id="n-PMK"><ellipse class="en" cx="357.3" cy="227" rx="9" ry="4.3"/><text class="e" x="357.3" y="228.6">PMK</text></g>
<g id="n-mev5pp"><circle class="nd" cx="357.3" cy="234.5" r="1.3"/><text class="m mr" x="355" y="236.3">Mevalonate-5PP</text></g>
<g id="n-MVD"><ellipse class="en" cx="375" cy="241.7" rx="9" ry="4.3"/><text class="e" x="375" y="243.3">MVD</text></g>

<g id="n-gap"><circle class="nd" cx="433.3" cy="141" r="1.3"/><text class="m ms" x="436.5" y="142.6">D-Glyceraldehyde 3-phosphate</text></g>
<g id="n-DXS"><ellipse class="en" cx="433.3" cy="149" rx="9" ry="4.3"/><text class="e" x="433.3" y="150.6">DXS</text></g>
<g id="n-dxp"><circle class="nd" cx="433.3" cy="156.7" r="1.3"/><text class="m ms" x="436.5" y="158.3">1-Deoxy-D-xylulose 5-phosphate</text></g>
<g id="n-DXR"><ellipse class="en" cx="433.3" cy="164.3" rx="9" ry="4.3"/><text class="e" x="433.3" y="165.9">DXR</text></g>
<g id="n-mep"><circle class="nd" cx="433.3" cy="172.3" r="1.3"/><text class="m ms" x="436.5" y="173.9">2-C-Methyl-D-erythritol 4-phosphate</text></g>
<g id="n-CMS"><ellipse class="en" cx="433.3" cy="179.3" rx="9" ry="4.3"/><text class="e" x="433.3" y="180.9">CMS</text></g>
<g id="n-cdpme"><circle class="nd" cx="433.3" cy="185.5" r="1.3"/><text class="m ms" x="436.5" y="187">4-(Cytidine 5'-diphospho)-2-C-methyl-</text><text class="m ms mm" x="464" y="192">D-erythritol</text></g>
<g id="n-CMK"><ellipse class="en" cx="433.3" cy="195.3" rx="9" ry="4.3"/><text class="e" x="433.3" y="196.9">CMK</text></g>
<g id="n-cdpmep"><circle class="nd" cx="433.3" cy="202" r="1.3"/><text class="m ms" x="436.5" y="203.4">2-Phospho-4-(cytidine 5'-diphospho)-2-C-</text><text class="m ms" x="450" y="208.3">methyl-D-erythritol</text></g>
<g id="n-MCS"><ellipse class="en" cx="433.3" cy="210.7" rx="9" ry="4.3"/><text class="e" x="433.3" y="212.3">MCS</text></g>
<g id="n-mecpp"><circle class="nd" cx="433.3" cy="217.7" r="1.3"/><text class="m ms" x="436.5" y="219.3">2-C-Methyl-D-erythritol 2,4-cyclodiphosphate</text></g>
<g id="n-HDS"><ellipse class="en" cx="433.3" cy="226.7" rx="9" ry="4.3"/><text class="e er" x="433.3" y="228.3">HDS</text></g>
<g id="n-hmbpp"><circle class="nd" cx="433.3" cy="234.3" r="1.3"/><text class="m ms" x="436.5" y="235.9">1-Hydroxy-2-methyl-2-butenyl 4-diphosphate</text></g>
<g id="n-HDR"><ellipse class="en" cx="420.7" cy="241" rx="9" ry="4.3"/><text class="e" x="420.7" y="242.6">HDR</text></g>
<g id="n-ipp"><circle class="nd" cx="397" cy="248.5" r="1.3"/><text class="m" x="400" y="250.3">Isopentenyl-PP</text></g>
<g id="n-IPI"><ellipse class="en" cx="397" cy="257.3" rx="9" ry="4.3"/><text class="e" x="397" y="258.9">IPI</text></g>
<g id="n-dmapp"><circle class="nd" cx="397" cy="264.7" r="1.3"/><text class="m" x="400" y="266.5">Dimethylallyl-PP</text></g>
<g id="n-FPS"><ellipse class="en" cx="397" cy="272.5" rx="9" ry="4.3"/><text class="e er" x="397" y="274.1">FPS</text></g>
<g id="n-gpp"><circle class="nd" cx="397" cy="279.5" r="1.3"/><text class="m" x="400" y="281.3">Geranyl-PP</text></g>

<g id="n-geraniol"><circle class="nd" cx="397" cy="295" r="1.3"/><text class="m" x="400" y="296.8">Geraniol</text></g>
<g id="n-G10H"><ellipse class="en" cx="397" cy="303.3" rx="9" ry="4.3"/><text class="e er" x="397" y="304.9">G10H</text></g>
<g id="n-hgeraniol"><circle class="nd" cx="397" cy="313.3" r="1.3"/><text class="m" x="400" y="315.1">10-Hydroxygeraniol</text></g>
<g id="n-iridodial"><circle class="nd" cx="397" cy="329.3" r="1.3"/><text class="m mr" x="394.5" y="331.1">Iridodial</text></g>
<g id="n-7DGT"><ellipse class="en" cx="397" cy="343.3" rx="9" ry="4.3"/><text class="e er" x="397" y="344.9">7DGT</text></g>
<g id="n-7DLGT"><ellipse class="en" cx="433.3" cy="343.3" rx="9.5" ry="4.3"/><text class="e er" x="433.3" y="344.9">7DLGT</text></g>
<g id="n-loganin"><circle class="nd" cx="397" cy="359.3" r="1.3"/><text class="m mr" x="394.5" y="361.1">Loganin</text></g>
<g id="n-SLS"><ellipse class="en" cx="397" cy="368.3" rx="9" ry="4.3"/><text class="e er" x="397" y="369.9">SLS</text></g>
<g id="n-secologanin"><circle class="nd" cx="397" cy="376" r="1.3"/><text class="m" x="400" y="377.8">Secologanin</text></g>
<g id="n-STR"><ellipse class="en" cx="332" cy="375" rx="9" ry="4.3"/><text class="e er" x="332" y="376.6">STR</text></g>
<g id="n-strictosidine"><circle class="nd" cx="332" cy="397" r="1.3"/><text class="m" x="335" y="398.8">Strictosidine</text></g>
<g id="n-tia"><rect class="alk" x="298" y="412.5" width="67" height="9.5"/><text class="alt" x="331.5" y="419.2">Terpenoid indole alkaloids</text></g>
</svg>
